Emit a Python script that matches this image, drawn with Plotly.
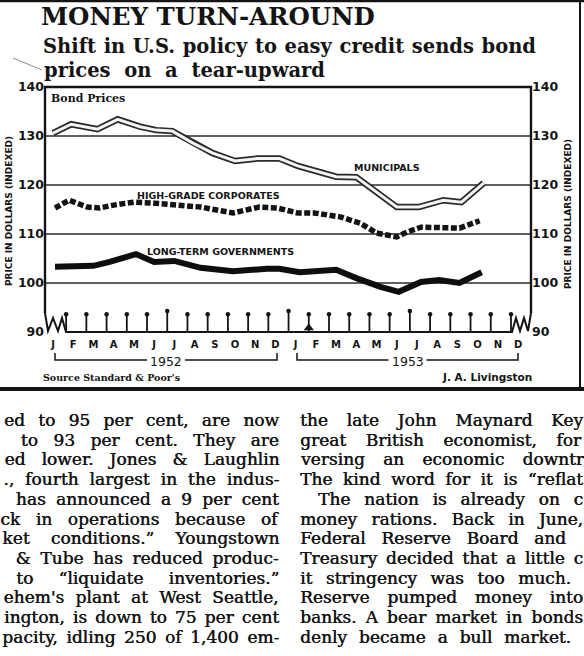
import json
import plotly.graph_objects as go

# ---------------- data (read from the clipping) ----------------
months = ["J", "F", "M", "A", "M", "J", "J", "A", "S", "O", "N", "D"]
years = ["1952", "1953"]
month_labels = months * len(years)
y_ticks = [90, 100, 110, 120, 130, 140]
grid_values = [100, 110, 120, 130]

# x = months since Jan 1952 (0 = Jan 1952, 12 = Jan 1953)
muni_x = [0.0, 0.9, 2.2, 3.2, 4.3, 5.1, 5.9, 6.9, 7.9, 9.0, 10.1, 11.2, 12.1,
          14.0, 15.0, 17.0, 18.1, 19.3, 20.2, 21.3]
muni_y = [130.6, 132.4, 131.4, 133.4, 131.9, 131.2, 131.0, 128.6, 126.5, 124.9,
          125.4, 125.4, 123.9, 121.7, 121.6, 115.5, 115.5, 116.9, 116.5, 120.4]

corp_x = [0.1, 0.8, 1.7, 2.3, 3.0, 4.0, 5.0, 5.9, 7.3, 8.9, 10.2, 11.1, 12.1,
          12.9, 14.2, 15.2, 16.0, 17.0, 17.5, 18.2, 19.1, 20.1, 21.1]
corp_y = [115.3, 116.9, 115.5, 115.3, 115.9, 116.5, 116.3, 115.9, 115.5, 114.3,
          115.5, 115.3, 114.3, 114.3, 113.5, 112.2, 110.2, 109.4, 110.4, 111.4,
          111.4, 111.2, 112.7]

gov_x = [0.1, 2.0, 2.8, 4.1, 5.0, 6.0, 7.3, 8.9, 10.6, 11.2, 12.2, 14.0, 15.0,
         16.2, 17.1, 18.2, 19.1, 20.1, 21.2]
gov_y = [103.3, 103.5, 104.3, 105.9, 104.3, 104.5, 103.1, 102.4, 102.9, 102.9,
         102.2, 102.7, 101.0, 99.2, 98.2, 100.2, 100.6, 100.0, 102.2]

series_labels = ["MUNICIPALS", "HIGH-GRADE CORPORATES", "LONG-TERM GOVERNMENTS"]
marker_gap_index = 12          # the black pointer sits at the Jan/Feb 1953 divider
tall_pin_index = [5, 11, 17]

title_text = "MONEY TURN-AROUND"
subtitle_lines = ["Shift in U.S. policy to easy credit sends bond",
                  "prices on a tear-upward"]
panel_label = "Bond Prices"
axis_title = "PRICE IN DOLLARS (INDEXED)"
source_text = "Source Standard & Poor's"
author_text = "J. A. Livingston"

left_col = [
    "ed to 95 per cent, are now",
    "to 93 per cent. They are",
    "ed lower. Jones & Laughlin",
    "., fourth largest in the indus-",
    "has announced a 9 per cent",
    "ck in operations because of",
    "ket conditions.\u201d Youngstown",
    "& Tube has reduced produc-",
    "to \u201cliquidate inventories.\u201d",
    "ehem's plant at West Seattle,",
    "ington, is down to 75 per cent",
    "pacity, idling 250 of 1,400 em-",
]
right_col = [
    "the late John Maynard Key",
    "great British economist, for",
    "versing an economic downtr",
    "The kind word for it is \u201creflat",
    "The nation is already on c",
    "money rations. Back in June,",
    "Federal Reserve Board and",
    "Treasury decided that a little c",
    "it stringency was too much.",
    "Reserve pumped money into",
    "banks. A bear market in bonds",
    "denly became a bull market.",
]

# ---------------- layout geometry (pixels) ----------------
W, H = 584, 656
PL, PR, PT, PB = 45, 531, 87, 332          # plot box
JAN52_PX, MONTH_PX = 53, 20.22              # month label spacing
x_lo = (PL - JAN52_PX) / MONTH_PX
x_hi = (PR - JAN52_PX) / MONTH_PX


def fx(px):
    return (px - PL) / (PR - PL)


def fy(py):
    return (PB - py) / (PB - PT)


def pt(px, py):
    return f"{fx(px):.5f},{fy(py):.5f}"


INK = "#141414"

fig = go.Figure()

# Municipals: hollow double line
fig.add_trace(go.Scatter(x=muni_x, y=muni_y, mode="lines",
                         line=dict(color="#2a2a2a", width=6.5),
                         hoverinfo="skip", showlegend=False))
fig.add_trace(go.Scatter(x=muni_x, y=muni_y, mode="lines",
                         line=dict(color="#f4f4f4", width=3),
                         hoverinfo="skip", showlegend=False))
# High-grade corporates: heavy dashes
fig.add_trace(go.Scatter(x=corp_x, y=corp_y, mode="lines",
                         line=dict(color=INK, width=5.5, dash="6px,2.5px"),
                         hoverinfo="skip", showlegend=False))
# Long-term governments: heavy solid
fig.add_trace(go.Scatter(x=gov_x, y=gov_y, mode="lines",
                         line=dict(color="#0e0e0e", width=6),
                         hoverinfo="skip", showlegend=False))

# month divider "pins"
pin_x = [m + 0.65 for m in range(len(month_labels) - 1)]
stem_x, stem_y, head_y = [], [], []
for i, xv in enumerate(pin_x):
    top = 94.6 if i in tall_pin_index else 93.9
    stem_x += [xv, xv, None]
    stem_y += [90, top, None]
    head_y.append(top - 0.3)
fig.add_trace(go.Scatter(x=stem_x, y=stem_y, mode="lines",
                         line=dict(color=INK, width=1.8), cliponaxis=False,
                         hoverinfo="skip", showlegend=False))
fig.add_trace(go.Scatter(x=pin_x, y=head_y, mode="markers",
                         marker=dict(color=INK, size=4.5, symbol="circle"),
                         cliponaxis=False, hoverinfo="skip", showlegend=False))
fig.add_trace(go.Scatter(x=[pin_x[marker_gap_index]], y=[90.8], mode="markers",
                         marker=dict(color=INK, size=9, symbol="triangle-up"),
                         cliponaxis=False, hoverinfo="skip", showlegend=False))
# carrier for the right-hand axis
fig.add_trace(go.Scatter(x=[None], y=[None], yaxis="y2", mode="markers",
                         hoverinfo="skip", showlegend=False))

shapes = []
for g in grid_values:
    shapes.append(dict(type="line", xref="paper", yref="y", x0=0, x1=1, y0=g, y1=g,
                       line=dict(color="#2b2b2b", width=1.7), layer="below"))

frame = dict(color=INK, width=2.4)
# chart box with broken bottom corners
box_path = ("M " + pt(PL, 313) + " L " + pt(PL, PT) + " L " + pt(PR, PT) + " L " + pt(PR, 313))
shapes.append(dict(type="path", xref="paper", yref="paper", path=box_path, line=frame))
zig = ("M " + pt(PL, 313) + " L " + pt(48, 331) + " L " + pt(53, 318) + " L " + pt(58, 331)
       + " L " + pt(62, 318) + " L " + pt(66, PB) + " L " + pt(512, PB) + " L " + pt(516, 318)
       + " L " + pt(520, 331) + " L " + pt(524, 318) + " L " + pt(528, 331) + " L " + pt(PR, 313))
shapes.append(dict(type="path", xref="paper", yref="paper", path=zig,
                   line=dict(color=INK, width=2)))
# year brackets, broken around the year label
bracket_spans = [(55, 277, 360), (297, 518, 360)]
YEAR_GAP = 19
for (xa, xb, yb) in bracket_spans:
    xc = (xa + xb) / 2
    p1 = "M " + pt(xa, yb - 7) + " L " + pt(xa, yb) + " L " + pt(xc - YEAR_GAP, yb)
    p2 = "M " + pt(xc + YEAR_GAP, yb) + " L " + pt(xb, yb) + " L " + pt(xb, yb - 7)
    for p in (p1, p2):
        shapes.append(dict(type="path", xref="paper", yref="paper", path=p,
                           line=dict(color=INK, width=1.5)))
# clipping frame
shapes.append(dict(type="line", xref="paper", yref="paper", x0=fx(0), x1=fx(W),
                   y0=fy(1), y1=fy(1), line=dict(color=INK, width=2.5)))
shapes.append(dict(type="line", xref="paper", yref="paper", x0=fx(580), x1=fx(580),
                   y0=fy(0), y1=fy(389), line=dict(color=INK, width=2)))
shapes.append(dict(type="line", xref="paper", yref="paper", x0=fx(0), x1=fx(W),
                   y0=fy(389), y1=fy(389), line=dict(color=INK, width=4)))
# stray pen stroke near the subtitle
shapes.append(dict(type="line", xref="paper", yref="paper", x0=fx(13), x1=fx(42),
                   y0=fy(58), y1=fy(70), line=dict(color="#8a8a8a", width=1)))

annotations = []


def ann(text, px, py, size, family="DejaVu Sans", weight="bold", xanchor="left",
        textangle=0, bgcolor=None, align=None, color=INK, shadow=None):
    font = dict(family=family, size=size, color=color, weight=weight)
    if shadow:
        font["shadow"] = shadow
    d = dict(text=text, x=fx(px), y=fy(py), xref="paper", yref="paper",
             xanchor=xanchor, yanchor="middle", showarrow=False, textangle=textangle,
             font=font, borderpad=0)
    if bgcolor:
        d["bgcolor"] = bgcolor
    if align:
        d["align"] = align
    annotations.append(d)
    return len(annotations) - 1


justify = []
ann(title_text, 40, 16, 24.5, family="DejaVu Serif")
k = ann(subtitle_lines[0], 42, 46, 19.5, family="DejaVu Serif", align="left")
justify.append([k, 493])
k = ann(subtitle_lines[1], 43, 70, 19.5, family="DejaVu Serif", align="left")
justify.append([k, 281])
ann(panel_label, 50, 98, 11, family="DejaVu Serif")
ann(series_labels[0], 387, 167, 9.5, xanchor="center")
ann(series_labels[1], 208, 195, 9.5, xanchor="center")
ann(series_labels[2], 220, 251, 9.5, xanchor="center")
ann(axis_title, 9, 211, 9, xanchor="center", textangle=-90)
ann(axis_title, 568, 214, 9, xanchor="center", textangle=-90)
for yr, (xa, xb, yb) in zip(years, bracket_spans):
    ann(yr, (xa + xb) / 2, yb + 1, 12.5, weight="normal", xanchor="center")
ann(source_text, 42, 377, 9.5, family="DejaVu Serif")
ann(author_text, 533, 377, 10.5, xanchor="right")

# article columns (justified in the browser)
ROW0, ROWSTEP = 420, 19.7
left_start = [5, 22, 5, 4, 17, 3, 3, 17, 17, 5, 5, 3]
right_start = [299, 299, 299, 299, 317, 299, 299, 299, 299, 299, 299, 299]
right_end = [582, 580, 582, 582, 582, 582, 565, 582, 570, 582, 582, 570]
ink_shadow = "0.45px 0px 0px #151515"
for i, line in enumerate(left_col):
    k = ann(line, 280, ROW0 + ROWSTEP * i, 17, family="DejaVu Serif", weight="normal",
            xanchor="right", align="right", color="#151515", shadow=ink_shadow)
    justify.append([k, 280 - left_start[i]])
for i, line in enumerate(right_col):
    k = ann(line, right_start[i], ROW0 + ROWSTEP * i, 17, family="DejaVu Serif",
            weight="normal", xanchor="left", align="left", color="#151515", shadow=ink_shadow)
    justify.append([k, right_end[i] - right_start[i]])

tick_font = dict(family="DejaVu Sans", size=12.5, color=INK, weight="bold")
fig.update_layout(
    width=W, height=H,
    margin=dict(l=PL, r=W - PR, t=PT, b=H - PB, pad=0),
    paper_bgcolor="white", plot_bgcolor="white", showlegend=False,
    hovermode=False,
    xaxis=dict(range=[x_lo, x_hi], tickmode="array", tickvals=list(range(len(month_labels))),
               ticktext=month_labels, showgrid=False, zeroline=False, showline=False,
               ticks="", ticklabelstandoff=5, fixedrange=True,
               tickfont=dict(family="DejaVu Sans", size=10, color=INK, weight="bold")),
    yaxis=dict(range=[90, 140], tickmode="array", tickvals=y_ticks,
               ticktext=[str(v) for v in y_ticks], showgrid=False, zeroline=False,
               showline=False, ticks="", tickfont=tick_font, fixedrange=True),
    yaxis2=dict(range=[90, 140], overlaying="y", side="right", anchor="x",
                tickmode="array", tickvals=y_ticks, ticktext=[str(v) for v in y_ticks],
                showgrid=False, zeroline=False, showline=False, ticks="", tickfont=tick_font,
                fixedrange=True),
    shapes=shapes, annotations=annotations,
)

js = """
document.documentElement.style.margin = '0';
document.documentElement.style.overflow = 'hidden';
document.body.style.margin = '0';
document.body.style.padding = '0';
document.body.style.overflow = 'hidden';
var gd = document.getElementById('{plot_id}');
var specs = SPECS;
var groups = gd.querySelectorAll('g.annotation');
specs.forEach(function(s){
  var g = gd.querySelector('g.annotation[data-index="' + s[0] + '"]') || groups[s[0]];
  if (!g) return;
  var t = g.querySelector('text.annotation-text');
  if (!t) return;
  var w = t.getComputedTextLength();
  var n = (t.textContent.match(/ /g) || []).length;
  if (n > 0) { t.style.wordSpacing = ((s[1] - w) / n) + 'px'; }
});
""".replace("SPECS", json.dumps(justify))

fig.write_html("out.html", post_script=js,
               config={"displayModeBar": False, "staticPlot": True})
